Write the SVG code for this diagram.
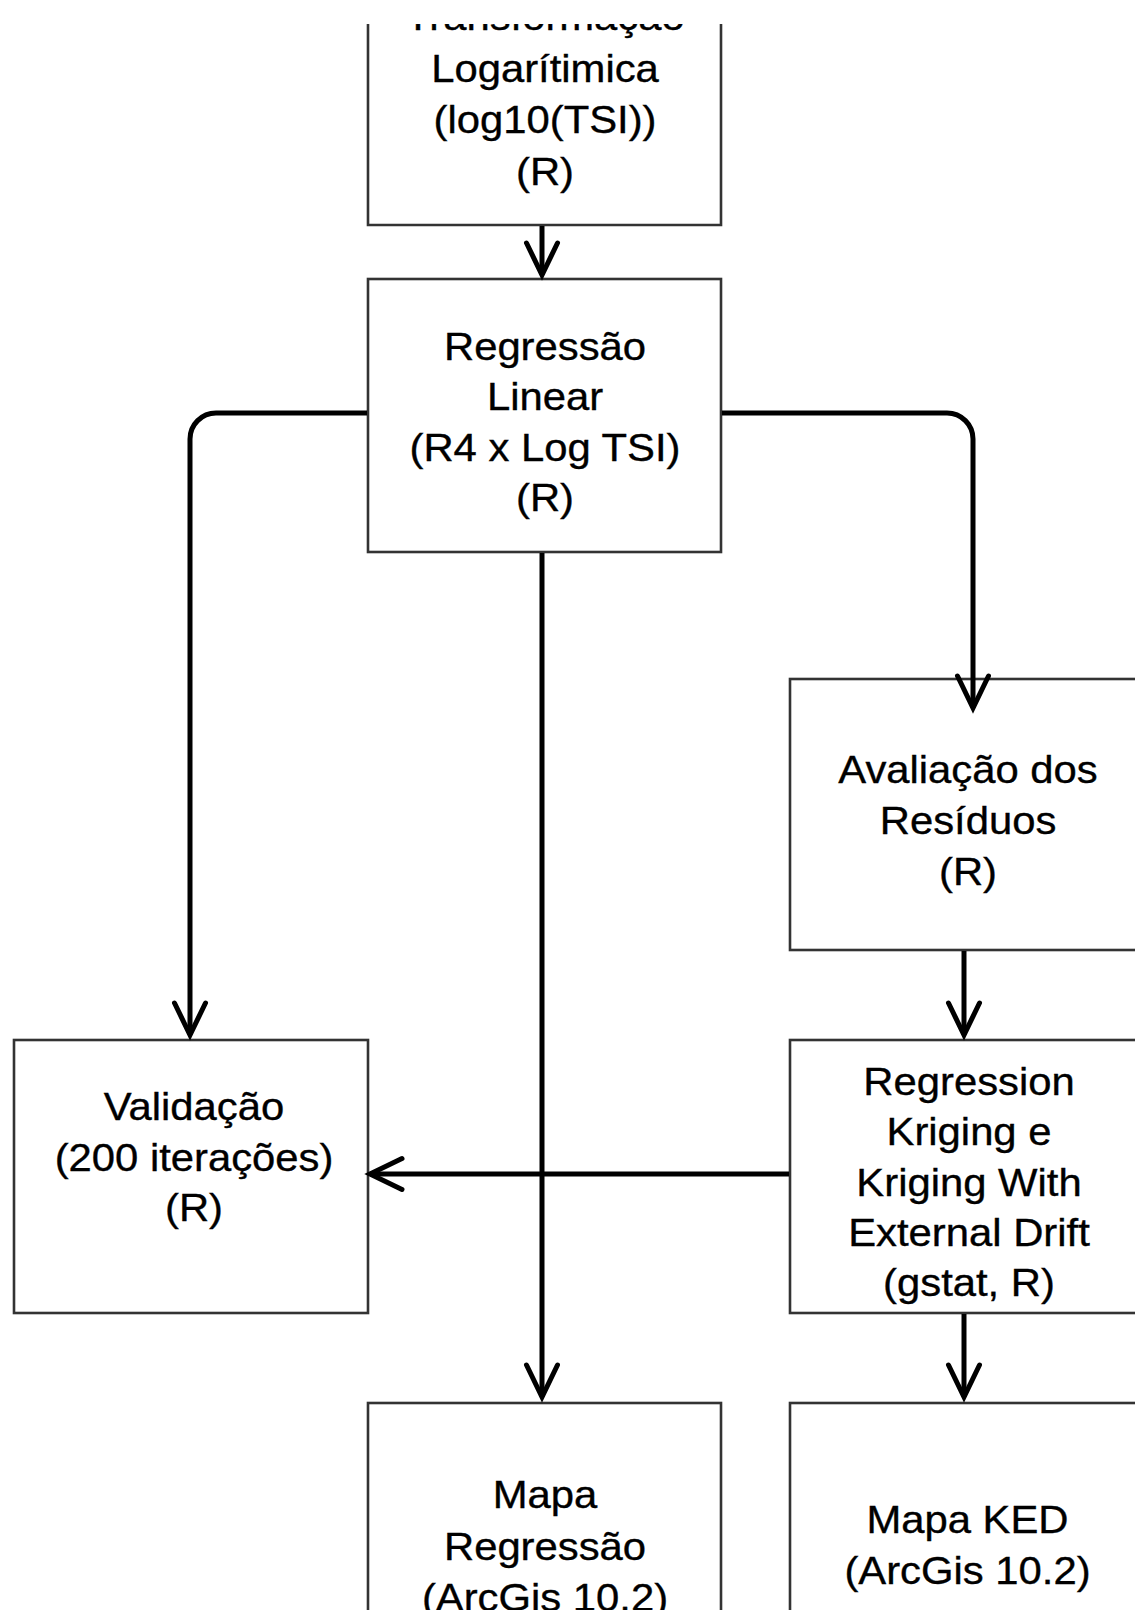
<svg xmlns="http://www.w3.org/2000/svg" width="1135" height="1610" viewBox="0 0 1135 1610">
  <style>
    .box { fill: #ffffff; stroke: #333333; stroke-width: 2.6; }
    .lbl { font-family: "Liberation Sans", Arial, sans-serif; font-size: 38px; fill: #000000; stroke: #000000; stroke-width: 0.35; text-anchor: middle; }
    .conn { fill: none; stroke: #000000; stroke-width: 5; marker-end: url(#arr); }
  </style>
  <defs>
    <marker id="arr" markerUnits="userSpaceOnUse" markerWidth="60" markerHeight="60" refX="0" refY="0" orient="auto" overflow="visible">
      <path d="M-32,-15.5 L0,0 L-32,15.5" fill="none" stroke="#000000" stroke-width="5" stroke-linejoin="miter" stroke-linecap="round"/>
    </marker>
    <clipPath id="topclip">
      <rect x="0" y="24" width="1135" height="1586"/>
    </clipPath>
  </defs>
  <rect x="0" y="0" width="1135" height="1610" fill="#ffffff"/>

  <g id="n-transformacao" clip-path="url(#topclip)">
    <path class="box" d="M368,24 V225 H721 V24"/>
    <text class="lbl" transform="translate(545,0) scale(1.1,1)"><tspan x="0" y="30">Transformação</tspan><tspan x="0" y="82">Logarítimica</tspan><tspan x="0" y="133.5">(log10(TSI))</tspan><tspan x="0" y="185">(R)</tspan></text>
  </g>

  <g id="n-regressao">
    <rect class="box" x="368" y="279" width="353" height="273"/>
    <text class="lbl" transform="translate(545,0) scale(1.1,1)"><tspan x="0" y="360">Regressão</tspan><tspan x="0" y="410">Linear</tspan><tspan x="0" y="461.5">(R4 x Log TSI)</tspan><tspan x="0" y="511.5">(R)</tspan></text>
  </g>

  <g id="n-avaliacao">
    <rect class="box" x="790" y="679" width="356" height="271"/>
    <text class="lbl" transform="translate(968,0) scale(1.1,1)"><tspan x="0" y="783">Avaliação dos</tspan><tspan x="0" y="834">Resíduos</tspan><tspan x="0" y="885">(R)</tspan></text>
  </g>

  <g id="n-validacao">
    <rect class="box" x="14" y="1040" width="354" height="273"/>
    <text class="lbl" transform="translate(194,0) scale(1.1,1)"><tspan x="0" y="1120">Validação</tspan><tspan x="0" y="1171.5">(200 iterações)</tspan><tspan x="0" y="1221.5">(R)</tspan></text>
  </g>

  <g id="n-kriging">
    <rect class="box" x="790" y="1040" width="356" height="273"/>
    <text class="lbl" transform="translate(969,0) scale(1.1,1)"><tspan x="0" y="1095">Regression</tspan><tspan x="0" y="1145.5">Kriging e</tspan><tspan x="0" y="1196">Kriging With</tspan><tspan x="0" y="1246">External Drift</tspan><tspan x="0" y="1296">(gstat, R)</tspan></text>
  </g>

  <g id="n-mapa-regressao">
    <rect class="box" x="368" y="1403" width="353" height="273"/>
    <text class="lbl" transform="translate(545,0) scale(1.1,1)"><tspan x="0" y="1508">Mapa</tspan><tspan x="0" y="1560">Regressão</tspan><tspan x="0" y="1611">(ArcGis 10.2)</tspan></text>
  </g>

  <g id="n-mapa-ked">
    <rect class="box" x="790" y="1403" width="356" height="273"/>
    <text class="lbl" transform="translate(967.5,0) scale(1.1,1)"><tspan x="0" y="1533">Mapa KED</tspan><tspan x="0" y="1584">(ArcGis 10.2)</tspan></text>
  </g>

  <g id="connectors">
    <path class="conn" d="M542,226 V275"/>
    <path class="conn" d="M367,413 H216 A26,26 0 0 0 190,439 V1035"/>
    <path class="conn" d="M722,413 H947 A26,26 0 0 1 973,439 V708"/>
    <path class="conn" d="M542,553 V1397"/>
    <path class="conn" d="M964,951 V1035"/>
    <path class="conn" d="M789,1174 H370"/>
    <path class="conn" d="M964,1314 V1397"/>
  </g>
</svg>
